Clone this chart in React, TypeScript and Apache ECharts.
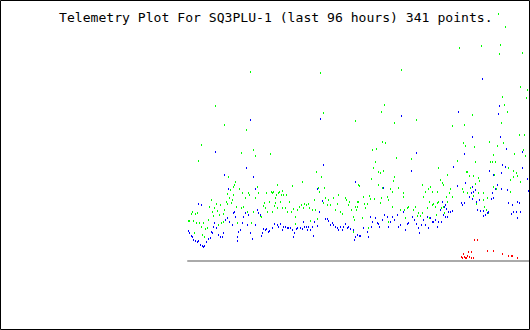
import React, { useEffect, useRef } from "react";
import * as echarts from "echarts";

const titleText = "Telemetry Plot For SQ3PLU-1 (last 96 hours) 341 points.";

// [sample index, value]
const blueSeries: [number, number][] = [
  [0,30],[1,28],[3,25],[4,24],[5,21],[7,20],[9,19],[10,20],[12,16],[14,15],[15,14],[16,15],[18,19],[20,22],[22,23],[23,29],[24,28],[25,34],[26,38],[28,33],[30,26],[32,24],[34,24],[35,28],[37,41],[39,43],[41,39],[44,36],[45,48],[46,49],[47,44],[49,24],[49,20],[50,29],[52,31],[54,38],[55,44],[57,48],[59,36],[60,46],[62,28],[64,22],[67,36],[69,51],[70,48],[72,46],[73,25],[74,28],[75,32],[77,31],[78,32],[80,29],[81,30],
  [10,57],[13,56],[27,109],[36,86],[40,72],[58,93],[62,141],[65,84],[67,72],
  [84,33],[86,37],[89,36],[90,34],[92,37],[94,31],[95,34],[97,34],[99,33],[100,33],[102,33],[104,31],[105,24],[106,28],[108,32],[109,33],[112,33],[114,32],[115,39],[116,34],[118,34],[119,31],[120,34],[122,31],[124,34],[125,25],[126,39],[129,35],[131,49],[137,42],[139,42],[140,40],[142,36],[144,38],[145,36],[147,34],[149,33],[150,31],[152,34],[154,31],[155,34],[157,37],[159,33],[160,34],[162,32],[165,31],[166,21],[167,24],[169,26],[171,25],
  [129,72],[134,60],[132,142],[135,96],[167,79],
  [172,25],[175,33],[179,29],[180,24],[182,44],[183,34],[184,39],[187,43],[189,38],[190,37],[191,34],[194,41],[196,46],[199,44],[200,34],[202,39],[204,44],[206,41],[209,46],[210,34],[212,36],[215,49],[217,31],[219,37],[220,38],[224,44],[226,41],[228,37],[230,33],[231,28],[233,36],[235,41],[237,36],[239,44],[240,33],[242,43],[244,39],[245,39],[247,41],[249,34],[250,39],[252,51],[254,59],[255,46],
  [195,73],[223,90],[213,145],[228,108],
  [253,39],[256,54],[257,56],[257,44],[258,52],[259,44],[260,49],[262,49],[264,50],[265,94],[269,75],[270,149],[273,58],[274,56],[276,58],[276,107],[277,78],[281,64],[283,68],[284,74],[284,62],[284,124],[285,69],[287,71],[288,59],[289,51],[291,61],[292,50],[294,182],[295,50],[295,45],[297,46],[299,48],[300,49],[301,90],[303,62],[304,68],[305,86],[305,63],[307,72],[309,76],[310,147],[311,155],[312,124],[313,88],[313,72],[314,96],[317,94],[318,112],[319,71],[320,58],[323,47],[324,56],[325,49],[328,49],[329,43],[329,59],[331,58],[332,49],[334,93],[334,109],[339,82],[340,70]
];

const greenSeries: [number, number][] = [
  [0,40],[1,40],[3,47],[4,49],[5,40],[6,28],[7,47],[8,38],[9,48],[11,38],[13,34],[14,26],[15,38],[16,24],[17,32],[19,33],[20,41],[21,54],[23,61],[24,49],[25,45],[26,53],[28,57],[29,50],[30,36],[31,46],[32,56],[33,38],[35,39],[35,47],[36,51],[38,59],[39,67],[39,57],[41,63],[42,71],[43,58],[44,61],[45,66],[46,76],[47,79],[48,54],[49,38],[51,72],[53,53],[54,68],[55,54],[57,63],[59,49],[60,68],[61,66],[63,38],[65,49],[67,63],[69,74],[70,68],[72,45],[73,44],[75,55],[76,58],[77,53],[78,68],[79,49],[81,59],[83,69],[84,49],
  [10,100],[13,116],[27,155],[36,136],[40,84],[45,74],[53,108],[58,131],[62,189],[65,111],[67,105],[82,107],
  [84,68],[85,69],[86,55],[87,58],[87,63],[88,66],[89,76],[89,53],[90,68],[91,69],[92,59],[93,66],[94,53],[94,70],[95,66],[97,53],[98,66],[99,49],[101,59],[103,49],[104,75],[105,52],[107,44],[107,37],[109,51],[111,54],[113,56],[114,79],[115,53],[116,57],[118,56],[120,57],[121,53],[122,40],[124,51],[126,61],[127,51],[128,89],[129,42],[130,73],[131,69],[133,84],[135,58],[136,73],[137,63],[139,56],[140,61],[142,56],[145,63],[147,51],[149,57],[150,66],[152,49],[154,47],[157,63],[158,61],[160,56],[161,59],[163,51],[165,44],[165,29],[166,41],[167,54],[169,59],[170,76],
  [132,188],[135,148],[167,140],[171,75],
  [168,51],[169,54],[170,59],[174,43],[175,64],[176,57],[177,53],[179,57],[180,33],[181,65],[182,62],[183,82],[185,93],[186,62],[187,99],[190,89],[190,76],[192,88],[192,58],[193,63],[194,73],[195,90],[199,64],[200,61],[200,39],[202,72],[204,69],[204,54],[205,80],[206,84],[210,73],[212,51],[215,64],[215,68],[216,51],[217,43],[219,53],[220,54],[225,51],[227,54],[229,45],[230,48],[232,45],[234,48],[234,76],[235,64],[237,69],[239,53],[240,72],[241,59],[241,43],[242,74],[244,56],[244,69],[245,57],[247,54],[248,46],[249,58],[249,69],[250,93],[250,59],[252,81],[253,53],[254,78],[255,54],[256,48],
  [184,111],[188,112],[193,149],[194,119],[196,156],[197,118],[206,138],[208,103],[213,191],[223,102],[228,141],
  [255,76],[258,64],[259,86],[259,59],[261,68],[262,72],[264,64],[269,100],[274,72],[275,69],[278,89],[279,89],[279,68],[281,85],[282,73],[285,85],[285,65],[287,99],[287,77],[288,57],[290,83],[290,68],[291,80],[295,68],[295,61],[296,54],[298,51],[299,63],[300,48],[302,99],[304,99],[305,106],[305,74],[306,86],[307,99],[308,72],[320,93],[322,81],[322,69],[325,84],[325,90],[326,107],[328,88],[329,85],[332,79],
  [264,135],[271,213],[275,118],[276,136],[277,115],[284,146],[286,114],[293,215],[301,119],[309,115],[310,247],[311,207],[312,216],[313,138],[314,164],[315,118],[316,156],[317,234],[319,149],[331,126],[332,174],[334,208],[335,111],[337,105],[336,126],[338,163],[339,171],[341,117]
];

const redSeries: [number, number][] = [
  [273,4],[274,3],[275,7],[276,4],[277,3],[278,3],[279,5],[280,9],[281,4],[283,3],[283,9],[285,3],[286,21],[289,21],[299,10],[305,10],[314,7],[320,5],[323,5],[324,5],[329,3]
];

export default function App() {
  const ref = useRef<HTMLDivElement>(null);
  useEffect(() => {
    document.body.style.margin = "0";
    const chart = echarts.init(ref.current!, null, { renderer: "svg" });
    const mk = (data: [number, number][], color: string) => ({
      type: "scatter",
      data,
      symbol: "rect",
      symbolSize: [1, 2],
      itemStyle: { color, opacity: 1 },
      silent: true,
      clip: false,
    });
    chart.setOption({
      animation: false,
      backgroundColor: "#ffffff",
      title: {
        text: titleText,
        left: 59,
        top: 10,
        padding: 0,
        textStyle: {
          fontFamily: "DejaVu Sans Mono",
          fontSize: 13.1,
          fontWeight: "normal",
          color: "#000000",
          lineHeight: 14,
        },
      },
      grid: { left: 188, top: 11, width: 342, height: 250 },
      xAxis: {
        type: "value",
        min: -0.5,
        max: 341.5,
        axisLine: { show: true, onZero: false, lineStyle: { color: "#aaaaaa", width: 2 } },
        axisTick: { show: false },
        axisLabel: { show: false },
        splitLine: { show: false },
      },
      yAxis: { type: "value", min: 0, max: 250, show: false },
      graphic: [
        {
          type: "rect",
          shape: { x: 0.5, y: 0.5, width: 529, height: 329 },
          style: { fill: "none", stroke: "#000000", lineWidth: 1 },
          z: 100,
          silent: true,
        },
      ],
      series: [mk(greenSeries, "#00ff00"), mk(blueSeries, "#0000ff"), mk(redSeries, "#ff0000")],
    });
    return () => chart.dispose();
  }, []);
  return <div ref={ref} style={{ width: 530, height: 330 }} />;
}
